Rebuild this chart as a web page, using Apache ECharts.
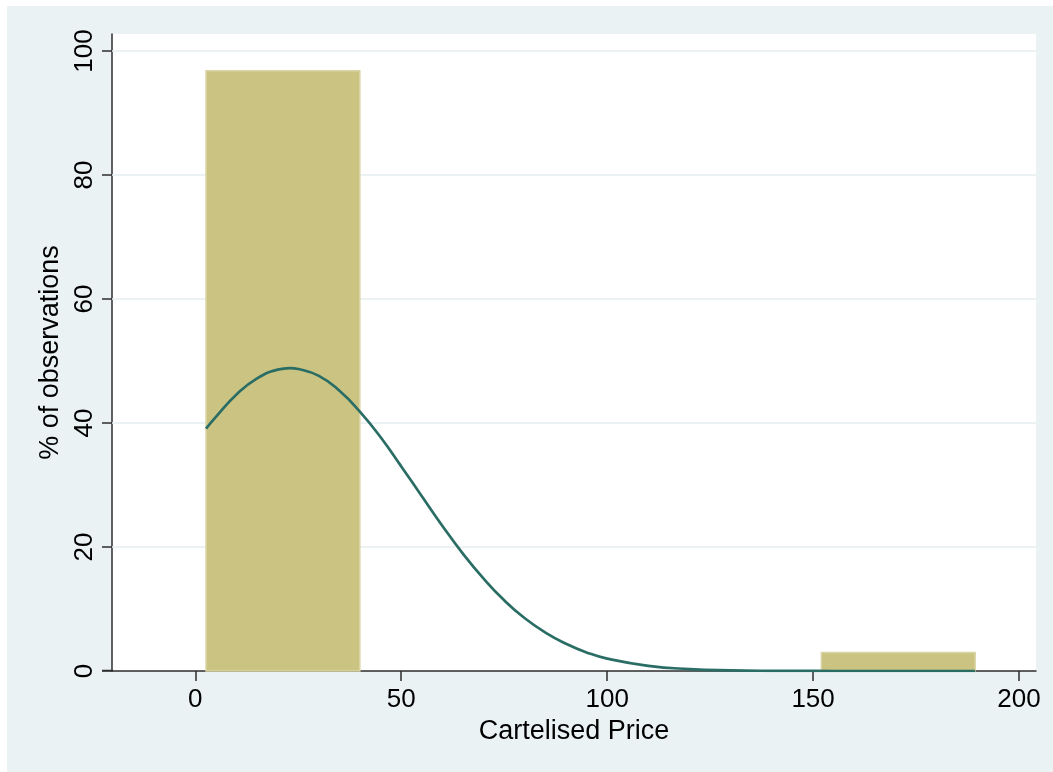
<!DOCTYPE html>
<html>
<head>
<meta charset="utf-8">
<script src="https://cdn.jsdelivr.net/npm/echarts@6/dist/echarts.min.js"></script>
<style>
  html, body { margin: 0; padding: 0; background: #EAF2F3; width: 100%; height: 100%; overflow: hidden; }
  .strip { position: absolute; background: #ffffff; }
  #chart { position: absolute; left: 7px; top: 6px; width: 1046px; height: 766px; }
</style>
</head>
<body>
<div class="strip" style="left:0;top:0;width:100%;height:6px;"></div>
<div class="strip" style="left:0;top:0;width:7px;height:100%;"></div>
<div id="chart"></div>
<script>
// Histogram bins (percent of observations)
const binStart = [2.6, 39.95, 77.3, 114.65, 152.0];
const binEnd   = [39.95, 77.3, 114.65, 152.0, 189.35];
const binPct   = [96.8, 0, 0, 0, 3.0];

// Normal density overlay (percent scale)
const curveX = [2.6, 5, 10, 15, 20, 23, 25, 30, 35, 40, 45, 50, 55, 60, 65, 70, 75, 80, 85, 90, 95, 100, 110, 120, 130, 140, 150, 160, 170, 180, 189.35];
const curveY = [39.1, 41.0, 44.6, 47.2, 48.6, 48.85, 48.7, 47.6, 45.2, 41.8, 37.7, 33.0, 28.2, 23.4, 18.9, 14.9, 11.4, 8.5, 6.2, 4.4, 3.0, 2.0, 0.84, 0.31, 0.10, 0.03, 0.01, 0.0, 0.0, 0.0, 0.0];

// Axis ticks
const xTicks = [0, 50, 100, 150, 200];
const yTicks = [0, 20, 40, 60, 80, 100];

const xTitle = 'Cartelised Price';
const yTitle = '% of observations';

const chart = echarts.init(document.getElementById('chart'), null, { renderer: 'canvas' });
const FONT = 'Liberation Sans, Arial, sans-serif';
const AXIS_COLOR = '#2e2e2e';

const option = {
  backgroundColor: '#EAF2F3',
  animation: false,
  grid: {
    left: 105, right: 17, top: 28, bottom: 101,
    show: true, backgroundColor: '#ffffff', borderWidth: 0
  },
  xAxis: {
    type: 'value',
    min: -20.23, max: 204.12,
    name: xTitle,
    nameLocation: 'middle',
    nameGap: 43,
    nameTextStyle: { fontFamily: FONT, fontSize: 27, color: '#000' },
    axisLine: { show: true, onZero: false, lineStyle: { color: AXIS_COLOR, width: 1.5 } },
    axisTick: { show: true, length: 10, customValues: xTicks, lineStyle: { color: AXIS_COLOR, width: 1.5 } },
    axisLabel: { customValues: xTicks, margin: 16, fontFamily: FONT, fontSize: 26, color: '#000' },
    splitLine: { show: false }
  },
  yAxis: {
    type: 'value',
    min: 0, max: 102.74,
    name: yTitle,
    nameLocation: 'middle',
    nameGap: 47,
    nameRotate: 90,
    nameTextStyle: { fontFamily: FONT, fontSize: 27, color: '#000' },
    axisLine: { show: true, onZero: false, lineStyle: { color: AXIS_COLOR, width: 1.5 } },
    axisTick: { show: true, length: 10, customValues: yTicks, lineStyle: { color: AXIS_COLOR, width: 1.5 } },
    axisLabel: { customValues: yTicks, rotate: 90, margin: 14, fontFamily: FONT, fontSize: 26, color: '#000' },
    splitLine: { show: false }
  },
  graphic: [{
    type: 'line',
    shape: { x1: 95, y1: 664.5, x2: 106, y2: 664.5 },
    style: { stroke: AXIS_COLOR, lineWidth: 1.5 },
    z: 10
  }],
  series: [
    {
      name: 'grid',
      type: 'line',
      data: [],
      z: 1,
      silent: true,
      markLine: {
        silent: true,
        z: 1,
        symbol: ['none', 'none'],
        label: { show: false },
        lineStyle: { color: '#E6EEF0', width: 1.5, type: 'solid' },
        data: yTicks.filter(v => v > 0).map(v => ({ yAxis: v }))
      }
    },
    {
      name: 'hist',
      type: 'custom',
      z: 2,
      data: binStart.map((s, i) => [s, binEnd[i], binPct[i]]),
      renderItem: function (params, api) {
        const h = api.value(2);
        if (!h) return null;
        const p0 = api.coord([api.value(0), 0]);
        const p1 = api.coord([api.value(1), h]);
        return {
          type: 'rect',
          shape: { x: p0[0], y: p1[1], width: p1[0] - p0[0], height: p0[1] - p1[1] },
          style: { fill: '#CBC382', stroke: '#DAD5A6', lineWidth: 1.5 }
        };
      }
    },
    {
      name: 'normal',
      type: 'line',
      z: 3,
      smooth: true,
      showSymbol: false,
      data: curveX.map((x, i) => [x, curveY[i]]),
      lineStyle: { color: '#2A6D65', width: 2.7 }
    }
  ]
};
chart.setOption(option);
</script>
</body>
</html>
